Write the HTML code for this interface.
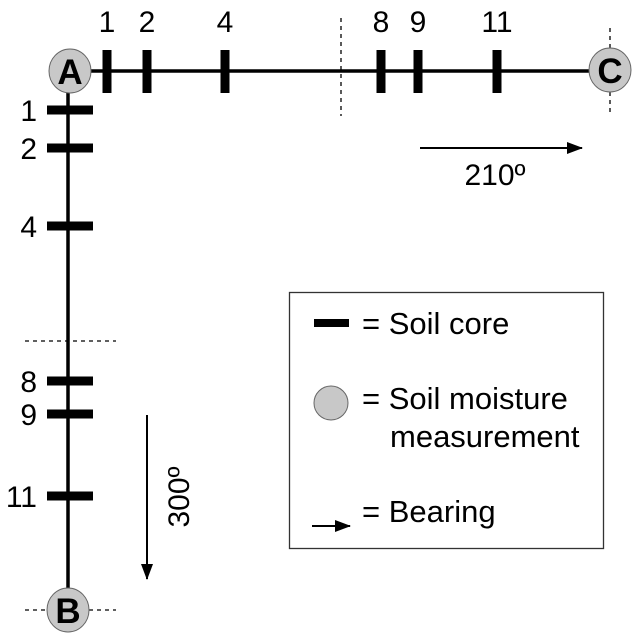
<!DOCTYPE html>
<html><head><meta charset="utf-8"><style>
html,body{margin:0;padding:0;background:#fff;}
svg{display:block;font-family:"Liberation Sans",Arial,sans-serif;}
</style></head><body>
<svg width="636" height="639" viewBox="0 0 636 639">
<defs><marker id="ah" markerWidth="16" markerHeight="12" refX="15" refY="6" orient="auto" markerUnits="userSpaceOnUse"><path d="M0,0 L16,6 L0,12 z" fill="#000"/></marker></defs>
<g stroke="#000" stroke-width="1.3" stroke-dasharray="4,4">
<line x1="341" y1="18" x2="341" y2="116"/>
<line x1="610" y1="28" x2="610" y2="116"/>
<line x1="25" y1="341" x2="116" y2="341"/>
<line x1="25" y1="610" x2="116" y2="610"/>
</g>
<line x1="70" y1="71" x2="610" y2="71" stroke="#000" stroke-width="3.5"/>
<line x1="68" y1="71" x2="68" y2="610" stroke="#000" stroke-width="3.5"/>
<g id="hticks"></g>
<g id="vticks"></g>
<g><ellipse cx="70" cy="71" rx="21" ry="22" fill="#c8c8c8" stroke="#666" stroke-width="1"/><text x="70" y="84" font-size="35" font-weight="bold" text-anchor="middle">A</text></g>
<g><ellipse cx="610" cy="70" rx="21" ry="22" fill="#c8c8c8" stroke="#666" stroke-width="1"/><text x="610" y="83" font-size="35" font-weight="bold" text-anchor="middle">C</text></g>
<g><ellipse cx="68" cy="610" rx="21" ry="22" fill="#c8c8c8" stroke="#666" stroke-width="1"/><text x="68" y="623" font-size="35" font-weight="bold" text-anchor="middle">B</text></g>
<line x1="420" y1="148" x2="582" y2="148" stroke="#000" stroke-width="2" marker-end="url(#ah)"/>
<text x="495" y="185" font-size="30" text-anchor="middle">210º</text>
<line x1="147" y1="415" x2="147" y2="579" stroke="#000" stroke-width="2" marker-end="url(#ah)"/>
<text transform="translate(189,497) rotate(-90)" font-size="30" text-anchor="middle">300º</text>
<g>
<rect x="289.5" y="292.5" width="314" height="256" fill="#fff" stroke="#333" stroke-width="1.3"/>
<rect x="314" y="319" width="35" height="8" fill="#000"/>
<text x="362" y="334" font-size="31">= Soil core</text>
<circle cx="331" cy="403" r="17" fill="#c8c8c8" stroke="#666" stroke-width="1"/>
<text x="362" y="409" font-size="31">= Soil moisture</text>
<text x="390" y="447" font-size="31">measurement</text>
<line x1="312" y1="526" x2="350" y2="526" stroke="#000" stroke-width="2" marker-end="url(#ah)"/>
<text x="362" y="522" font-size="31">= Bearing</text>
</g>
</svg>
<script>
const coreLabels = [1, 2, 4, 8, 9, 11];
const hPositions = [107, 147, 225, 381, 418, 497];
const vPositions = [110, 148, 226, 381, 414, 496];
const NS = "http://www.w3.org/2000/svg";
const hg = document.getElementById('hticks'), vg = document.getElementById('vticks');
coreLabels.forEach((lab, i) => {
  const x = hPositions[i];
  const r = document.createElementNS(NS, 'rect');
  r.setAttribute('x', x - 4.5); r.setAttribute('y', 50); r.setAttribute('width', 9); r.setAttribute('height', 43);
  
  
  hg.appendChild(r);
  const t = document.createElementNS(NS, 'text');
  t.setAttribute('x', x); t.setAttribute('y', 32); t.setAttribute('font-size', '30'); t.setAttribute('text-anchor', 'middle');
  t.textContent = lab;
  
  
  hg.appendChild(t);
  const y = vPositions[i];
  const r2 = document.createElementNS(NS, 'rect');
  r2.setAttribute('x', 47); r2.setAttribute('y', y - 4.5); r2.setAttribute('width', 46); r2.setAttribute('height', 9);
  
  
  vg.appendChild(r2);
  const t2 = document.createElementNS(NS, 'text');
  t2.setAttribute('x', 37); t2.setAttribute('y', y + 11); t2.setAttribute('font-size', '30'); t2.setAttribute('text-anchor', 'end');
  t2.textContent = lab;
  
  
  vg.appendChild(t2);
});
</script>
</body></html>
